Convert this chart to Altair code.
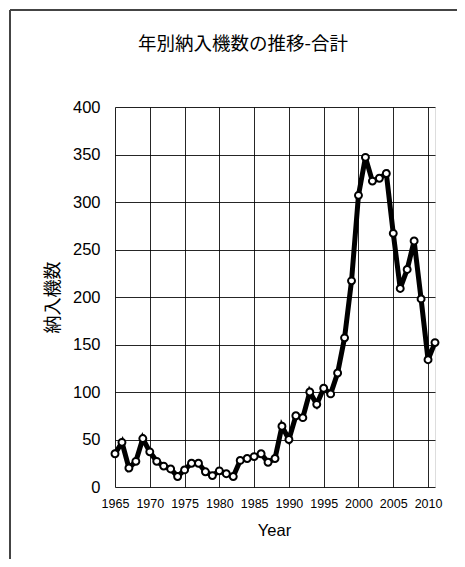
import altair as alt
import pandas as pd

years = list(range(1965, 2012))
units = [35, 47, 20, 27, 51, 37, 27, 22, 19, 11,
         18, 25, 25, 16, 12, 17, 14, 11, 28, 30,
         32, 35, 26, 30, 64, 50, 75, 73, 100, 87,
         104, 98, 120, 157, 217, 307, 347, 322, 325, 330,
         267, 209, 229, 259, 198, 134, 152]
x_ticks = [1965, 1970, 1975, 1980, 1985, 1990, 1995, 2000, 2005, 2010]
y_ticks = [0, 50, 100, 150, 200, 250, 300, 350, 400]
chart_title = "年別納入機数の推移-合計"

df = pd.DataFrame({"Year": years, "納入機数": units})

NUM_FONT = "Liberation Sans"
JP_FONT = "Noto Sans CJK JP"
W, H = 320, 380

x = alt.X("Year:Q",
          scale=alt.Scale(domain=[1965, 2011], nice=False, zero=False),
          axis=alt.Axis(values=x_ticks, format="d", title="Year",
                        labelFont=NUM_FONT, labelFontSize=12.5, labelColor="#000",
                        labelPadding=10, labelOverlap=False, labelFlush=False,
                        tickSize=0, domain=False,
                        gridColor="#000", gridWidth=1, gridOpacity=0.85,
                        titleFont=NUM_FONT, titleFontSize=16.5, titleFontWeight="normal",
                        titleColor="#000", titleBaseline="middle", titleY=43,
                        titleX=W / 2 - 1, titleAlign="center"))
y = alt.Y("納入機数:Q",
          scale=alt.Scale(domain=[0, 400], nice=False),
          axis=alt.Axis(values=y_ticks, title="納入機数",
                        labelFont=NUM_FONT, labelFontSize=16.5, labelColor="#000",
                        labelPadding=15, tickSize=0, domain=False,
                        gridColor="#000", gridWidth=1, gridOpacity=0.85,
                        titleFont=JP_FONT, titleFontSize=18, titleFontWeight="normal",
                        titleColor="#000", titleBaseline="middle", titleAlign="center",
                        titleAngle=-90, titleX=-62, titleY=H / 2))

line = alt.Chart(df).mark_line(color="#000", strokeWidth=5, clip=False).encode(x=x, y=y)
pts = alt.Chart(df).mark_point(filled=True, fill="#fff", stroke="#000", strokeWidth=2,
                               size=48, opacity=1, clip=False).encode(x=x, y=y)

title_txt = alt.Chart().mark_text(font=JP_FONT, fontSize=18.5, color="#000",
                                  align="center", baseline="middle").encode(
    x=alt.value(128), y=alt.value(-63), text=alt.value(chart_title))

frame_top = alt.Chart().mark_rule(color="#444", strokeWidth=2).encode(
    x=alt.value(-105), x2=alt.value(350), y=alt.value(-97))
frame_left = alt.Chart().mark_rule(color="#444", strokeWidth=2).encode(
    x=alt.value(-105), y=alt.value(-97), y2=alt.value(460))

chart = alt.layer(line, pts, title_txt, frame_top, frame_left).properties(
    width=W, height=H,
    autosize=alt.AutoSizeParams(type="none"),
    padding={"left": 107, "top": 99, "right": 22, "bottom": 72},
).configure_view(stroke="#000", strokeWidth=2).configure(background="#fff")

chart.save("out.html", embed_options={"renderer": "svg", "actions": False})
